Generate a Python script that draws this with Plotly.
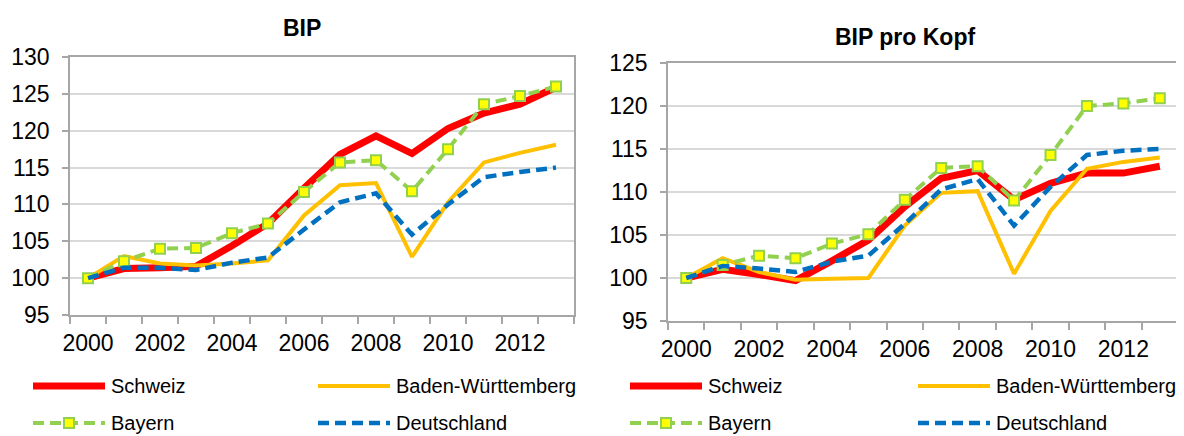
import plotly.graph_objects as go

years = list(range(2000, 2014))
tick_years = [2000, 2002, 2004, 2006, 2008, 2010, 2012]
tick_text = [str(y) for y in tick_years]

series_names = ["Schweiz", "Baden-Württemberg", "Bayern", "Deutschland"]

# BIP (index 2000 = 100)
bip_schweiz = [100, 101.3, 101.4, 101.6, 104.4, 107.4, 112.2, 116.8, 119.3, 116.9, 120.3, 122.4, 123.6, 125.9]
bip_bw = [100, 103.0, 102.0, 101.7, 102.0, 102.4, 108.5, 112.6, 112.9, 102.9, 110.3, 115.7, 117.0, 118.1]
bip_bayern = [100, 102.3, 104.0, 104.1, 106.1, 107.4, 111.7, 115.7, 116.0, 111.8, 117.5, 123.6, 124.7, 126.0]
bip_de = [100, 101.4, 101.4, 101.1, 102.1, 102.8, 106.6, 110.3, 111.5, 105.9, 110.0, 113.7, 114.4, 115.0]

# BIP pro Kopf (index 2000 = 100)
kopf_schweiz = [100, 101.0, 100.4, 99.7, 102.0, 104.4, 108.3, 111.6, 112.5, 109.1, 111.0, 112.2, 112.2, 113.0]
kopf_bw = [100, 102.3, 100.7, 99.8, 99.9, 100.0, 106.1, 109.9, 110.1, 100.5, 107.8, 112.7, 113.5, 114.0]
kopf_bayern = [100, 101.5, 102.6, 102.3, 104.0, 105.1, 109.1, 112.8, 113.0, 109.0, 114.3, 120.0, 120.3, 120.9]
kopf_de = [100, 101.4, 101.1, 100.7, 101.9, 102.6, 106.3, 110.3, 111.5, 106.1, 110.6, 114.3, 114.8, 115.0]

FONT = "Liberation Sans, Arial, sans-serif"
RED = "#FF0000"
ORANGE = "#FFC000"
GREEN = "#92D050"
BLUE = "#0070C0"
YELLOW = "#FFFF00"
GRID = "#D9D9D9"
AXIS = "#A6A6A6"

styles = [
    dict(line=dict(color=RED, width=7), mode="lines"),
    dict(line=dict(color=ORANGE, width=4), mode="lines"),
    dict(line=dict(color=GREEN, width=4, dash="11px,6px"), mode="lines+markers",
         marker=dict(symbol="square", size=10, color=YELLOW, line=dict(color=GREEN, width=2))),
    dict(line=dict(color=BLUE, width=4.5, dash="11px,6px"), mode="lines"),
]

fig = go.Figure()
for data, xa, ya in [([bip_schweiz, bip_bw, bip_bayern, bip_de], "x", "y"),
                     ([kopf_schweiz, kopf_bw, kopf_bayern, kopf_de], "x2", "y2")]:
    for name, vals, st in zip(series_names, data, styles):
        fig.add_trace(go.Scatter(x=years, y=vals, name=name, xaxis=xa, yaxis=ya,
                                 showlegend=False, cliponaxis=False, **st))

# The page body adds an 8px margin; size the figure so it fits the 1184x436 window.
OFF = 8
W, H = 1184 - OFF, 436 - OFF

def px_x(v):
    return (v - OFF) / W

def px_y(v):
    return 1 - (v - OFF) / H

minor_vals = [1999.5 + i for i in range(15)]

def xaxis(domain, anchor):
    return dict(domain=domain, anchor=anchor, range=[1999.5, 2013.5], automargin=False,
                tickmode="array", tickvals=tick_years, ticktext=tick_text,
                ticks="", showgrid=False, zeroline=False,
                showline=True, linecolor=AXIS, linewidth=1.5, mirror=True,
                tickfont=dict(family=FONT, size=23, color="#000"),
                ticklabelstandoff=7,
                minor=dict(tickmode="array", tickvals=minor_vals, ticks="outside",
                           ticklen=7, tickcolor=AXIS, tickwidth=1.5, showgrid=False))

def yaxis(domain, anchor, rng, dtick):
    return dict(domain=domain, anchor=anchor, range=rng, dtick=dtick, tick0=rng[0],
                automargin=False,
                ticks="outside", ticklen=6, tickcolor=AXIS, tickwidth=1.5,
                showgrid=True, gridcolor=GRID, gridwidth=1.5, zeroline=False,
                showline=True, linecolor=AXIS, linewidth=1.5, mirror=True,
                tickfont=dict(family=FONT, size=23, color="#000"),
                ticklabelstandoff=8)

fig.update_layout(
    width=W, height=H, margin=dict(l=0, r=0, t=0, b=0, pad=0, autoexpand=False),
    paper_bgcolor="white", plot_bgcolor="white",
    xaxis=xaxis([px_x(70), px_x(574)], "y"),
    yaxis=yaxis([px_y(315), px_y(57)], "x", [95, 130], 5),
    xaxis2=xaxis([px_x(668), px_x(1178)], "y2"),
    yaxis2=yaxis([px_y(321), px_y(63)], "x2", [95, 125], 5),
)

# Titles
fig.add_annotation(text="<b>BIP</b>", x=px_x(302), y=px_y(28), xref="paper", yref="paper",
                   showarrow=False, xanchor="center", yanchor="middle",
                   font=dict(family=FONT, size=23, color="#000"))
fig.add_annotation(text="<b>BIP pro Kopf</b>", x=px_x(905), y=px_y(37), xref="paper", yref="paper",
                   showarrow=False, xanchor="center", yanchor="middle",
                   font=dict(family=FONT, size=23, color="#000"))

# Legends (drawn below each chart)
def legend(x_left, x_right):
    rows = [(386, [(0, x_left), (1, x_right)]), (423, [(2, x_left), (3, x_right)])]
    for yy, items in rows:
        for idx, x0 in items:
            st = styles[idx]
            ln = st["line"]
            fig.add_shape(type="line", xref="paper", yref="paper",
                          x0=px_x(x0), x1=px_x(x0 + 72), y0=px_y(yy), y1=px_y(yy),
                          line=dict(color=ln["color"], width=ln["width"],
                                    dash=ln.get("dash", "solid")))
            if idx == 2:
                cx = x0 + 36
                fig.add_shape(type="rect", xref="paper", yref="paper",
                              x0=px_x(cx - 5), x1=px_x(cx + 5), y0=px_y(yy + 5), y1=px_y(yy - 5),
                              fillcolor=YELLOW, line=dict(color=GREEN, width=2))
            fig.add_annotation(text=series_names[idx], x=px_x(x0 + 76), y=px_y(yy),
                               xref="paper", yref="paper", showarrow=False,
                               xanchor="left", yanchor="middle",
                               font=dict(family=FONT, size=20, color="#000"))

legend(33, 318)
legend(630, 918)

fig.write_html("out.html")
